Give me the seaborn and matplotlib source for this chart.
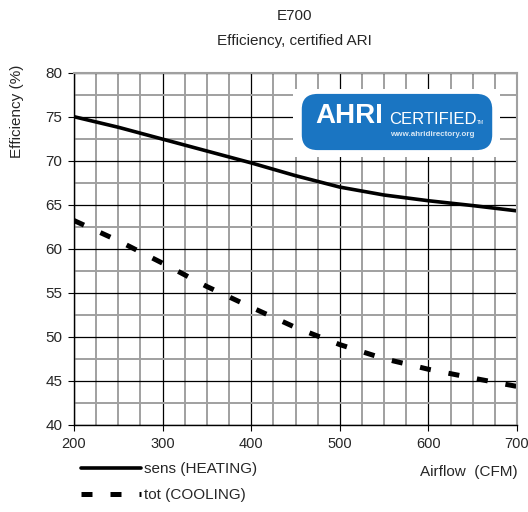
import matplotlib
matplotlib.use("Agg")
import matplotlib.pyplot as plt
import seaborn as sns
from matplotlib.patches import FancyBboxPatch, Rectangle
from matplotlib.ticker import MultipleLocator
from matplotlib.transforms import ScaledTranslation

sns.set_style("white")
plt.rcParams['font.family'] = ['Liberation Sans', 'DejaVu Sans']

# dados
airflow = [200, 250, 300, 350, 400, 450, 500, 550, 600, 650, 700]
sens_heating = [75.0, 73.8, 72.45, 71.1, 69.75, 68.3, 67.0, 66.1, 65.45, 64.9, 64.3]
tot_cooling = [63.2, 60.9, 58.35, 55.7, 53.35, 51.05, 49.1, 47.5, 46.3, 45.3, 44.35]

W, H = 528, 512
fx = lambda px: px / W
fy = lambda py: 1 - py / H

fig = plt.figure(figsize=(W / 100, H / 100), dpi=100)
ax = fig.add_axes([fx(74), fy(424.7), fx(517) - fx(74), fy(72.7) - fy(424.7)])

sns.lineplot(x=airflow, y=sens_heating, ax=ax, color='black', lw=2.6,
             label='sens (HEATING)')
sns.lineplot(x=airflow, y=tot_cooling, ax=ax, color='black', lw=3.6,
             linestyle=(0, (2.2, 3.6)), label='tot (COOLING)')

ax.set_xlim(200, 700)
ax.set_ylim(40, 80)
ax.xaxis.set_major_locator(MultipleLocator(100))
ax.xaxis.set_minor_locator(MultipleLocator(25))
ax.yaxis.set_major_locator(MultipleLocator(5))
ax.yaxis.set_minor_locator(MultipleLocator(2.5))
ax.set_axisbelow(True)
ax.grid(which='minor', color='#a0a0a0', lw=1.4)
ax.grid(which='major', color='black', lw=0.9)
ax.tick_params(which='major', direction='out', length=4, width=0.8, color='black',
               labelsize=11, bottom=True, left=True)
ax.tick_params(axis='x', pad=5, labelsize=10.5)
ax.tick_params(axis='y', pad=4.5)
ax.tick_params(which='minor', length=0)
for s in ['left', 'bottom']:
    ax.spines[s].set_color('black')
    ax.spines[s].set_linewidth(1.0)
for s in ['top', 'right']:
    ax.spines[s].set_color('#a0a0a0')
    ax.spines[s].set_linewidth(1.5)
ax.set_xlabel('')
ax.set_ylabel('')

# ultimo rotulo do eixo x encostado na borda: desloca um pouco para a esquerda
fig.canvas.draw()
ultimo = ax.get_xticklabels()[-1]
ultimo.set_transform(ultimo.get_transform() + ScaledTranslation(-0.03, 0, fig.dpi_scale_trans))

# titulos e rotulos
fig.text(fx(294), fy(20), 'E700', ha='center', va='baseline', fontsize=11)
fig.text(fx(294), fy(44.5), 'Efficiency, certified ARI', ha='center', va='baseline', fontsize=11)
fig.text(fx(17.5), fy(111), 'Efficiency (%)', rotation=90, ha='center', va='center', fontsize=11)
fig.text(fx(518), fy(472), 'Airflow  (CFM)', ha='right', va='center', fontsize=11)

ax.legend(loc='upper left', bbox_to_anchor=(fx(81), fy(462)), bbox_transform=fig.transFigure,
          frameon=False, fontsize=11, handlelength=3.9, handletextpad=0.2,
          labelspacing=0.8, borderpad=0, borderaxespad=0)

# logo AHRI
ax.add_patch(Rectangle((fx(293), fy(157)), fx(500) - fx(293), fy(89) - fy(157),
                       transform=fig.transFigure, facecolor='white', edgecolor='none',
                       zorder=5, clip_on=False))
ax.add_patch(FancyBboxPatch((fx(306), fy(146)), fx(488) - fx(306), fy(98) - fy(146),
                            boxstyle='round,pad=0.008,rounding_size=0.03',
                            transform=fig.transFigure, facecolor='#1a75c2', edgecolor='none',
                            zorder=6, clip_on=False))
fig.text(fx(349), fy(116), 'AHRI', ha='center', va='center', fontsize=20,
         fontweight='heavy', color='white', zorder=7)
fig.text(fx(389), fy(119), 'CERTIFIED', ha='left', va='center', fontsize=12,
         color='white', zorder=7)
fig.text(fx(477), fy(123), 'TM', ha='left', va='center', fontsize=3.5,
         color='white', zorder=7)
fig.text(fx(432), fy(134), 'www.ahridirectory.org', ha='center', va='center', fontsize=5.8,
         fontweight='bold', color='#d8e8f5', zorder=7)

fig.savefig('out.png', dpi=100)
